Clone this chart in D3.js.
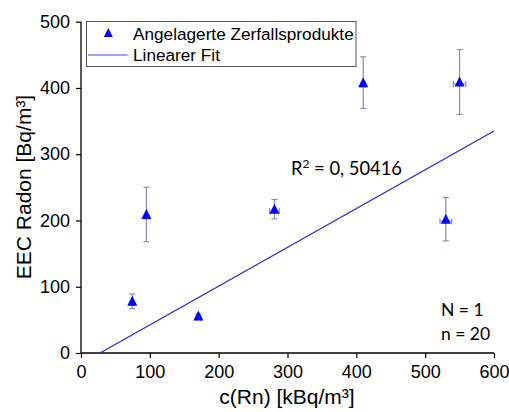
<!DOCTYPE html>
<html><head><meta charset="utf-8">
<script src="https://cdn.jsdelivr.net/npm/d3@7"></script>
<style>body{margin:0;background:#fff}svg{display:block}</style>
</head><body>
<script>
const xValues = [74.5, 95, 170.5, 281, 410, 550, 530];
const yValues = [78, 209, 56, 217, 408, 409, 202];
const yErrors = [11, 41, 3, 14.6, 39, 49, 32.7];
const xErrors = [2, 2, 3, 7, 3, 9, 8.5];
const fitLine = [[27.6, 0], [600, 335]];
const xTicks = [0, 100, 200, 300, 400, 500, 600];
const yTicks = [0, 100, 200, 300, 400, 500];
const legendLabels = ["Angelagerte Zerfallsprodukte", "Linearer Fit"];

const W = 509, H = 412;
const svg = d3.select("body").append("svg").attr("width", W).attr("height", H);
const x = d3.scaleLinear().domain([0, 600]).range([81, 494]);
const y = d3.scaleLinear().domain([0, 500]).range([353, 21.7]);
const font = "'Liberation Sans', Arial, sans-serif";
const font2 = "Lato, 'Open Sans', sans-serif";

// minor ticks
const xMinor = d3.range(50, 600, 100), yMinor = d3.range(50, 500, 100);
const gx = svg.append("g").attr("transform", `translate(0,${y(0)})`);
gx.call(d3.axisBottom(x).tickValues(xMinor).tickSize(3).tickFormat(""));
gx.call(d3.axisBottom(x).tickValues(xTicks).tickSize(5).tickPadding(7).tickFormat(d3.format("d")));
gx.selectAll(".domain").remove();
gx.append("line").attr("x1", x(0)).attr("x2", x(600)).attr("stroke", "#000").attr("stroke-width", 1.3);
const gy = svg.append("g").attr("transform", `translate(${x(0)},0)`);
gy.call(d3.axisLeft(y).tickValues(yMinor).tickSize(3).tickFormat(""));
gy.call(d3.axisLeft(y).tickValues(yTicks).tickSize(5).tickPadding(6).tickFormat(d3.format("d")));
gy.selectAll(".domain").remove();
gy.append("line").attr("y1", y(0)).attr("y2", y(500)).attr("stroke", "#000").attr("stroke-width", 1.3);
svg.selectAll(".tick line").attr("stroke", "#000").attr("stroke-width", 1.2);
svg.selectAll(".tick text").attr("font-family", font).attr("font-size", 18).attr("fill", "#000");

// axis labels
svg.append("text").attr("x", 287).attr("y", 404).attr("text-anchor", "middle")
  .attr("font-family", font).attr("font-size", 21).text("c(Rn) [kBq/m³]");
svg.append("text").attr("transform", `translate(31,187) rotate(-90)`).attr("text-anchor", "middle")
  .attr("font-family", font).attr("font-size", 21).text("EEC Radon [Bq/m³]");

// fit line
svg.append("line").attr("x1", x(fitLine[0][0])).attr("y1", y(fitLine[0][1]))
  .attr("x2", x(fitLine[1][0])).attr("y2", y(fitLine[1][1]))
  .attr("stroke", "#2a2ad0").attr("stroke-width", 1.3);

// error bars
const ec = "#8a8ac4";
const pts = xValues.map((v, i) => ({x: v, y: yValues[i], ye: yErrors[i], xe: xErrors[i]}));
const eb = svg.append("g").attr("stroke", ec).attr("stroke-width", 1.2).attr("fill", "none");
pts.forEach(p => {
  const cx = x(p.x), cy = y(p.y), t = y(p.y + p.ye), b = y(p.y - p.ye);
  eb.append("line").attr("x1", cx).attr("x2", cx).attr("y1", t).attr("y2", b);
  eb.append("line").attr("x1", cx - 3).attr("x2", cx + 3).attr("y1", t).attr("y2", t);
  eb.append("line").attr("x1", cx - 3).attr("x2", cx + 3).attr("y1", b).attr("y2", b);
  const l = x(p.x - p.xe), r = x(p.x + p.xe);
  eb.append("line").attr("x1", l).attr("x2", r).attr("y1", cy + 2).attr("y2", cy + 2);
  eb.append("line").attr("x1", l).attr("x2", l).attr("y1", cy - 1).attr("y2", cy + 5);
  eb.append("line").attr("x1", r).attr("x2", r).attr("y1", cy - 1).attr("y2", cy + 5);
});

// triangles
const tri = (cx, cy, s) => `M${cx},${cy - s * 0.55}L${cx + s / 2},${cy + s * 0.45}L${cx - s / 2},${cy + s * 0.45}Z`;
svg.append("g").selectAll("path").data(pts).join("path")
  .attr("d", d => tri(x(d.x), y(d.y), 10)).attr("fill", "#0000ff");

// legend
svg.append("rect").attr("x", 86.5).attr("y", 21.5).attr("width", 269.5).attr("height", 45)
  .attr("fill", "#fff").attr("stroke", "#555").attr("stroke-width", 1);
svg.append("path").attr("d", tri(108.3, 33, 9)).attr("fill", "#0000ff");
svg.append("line").attr("x1", 88).attr("x2", 127.5).attr("y1", 55).attr("y2", 55)
  .attr("stroke", "#8080f0").attr("stroke-width", 1.5);
svg.append("text").attr("x", 133).attr("y", 40).attr("font-family", font).attr("font-size", 17.2).text(legendLabels[0]);
svg.append("text").attr("x", 133).attr("y", 61).attr("font-family", font).attr("font-size", 17.2).text(legendLabels[1]);

// annotations
const r2 = svg.append("text").attr("x", 291).attr("y", 175).attr("font-family", font2).attr("font-size", 18.3);
r2.append("tspan").text("R");
r2.append("tspan").attr("font-size", 12).attr("dy", -7).text("2");
r2.append("tspan").attr("dy", 7).text(" = 0, 50416");
svg.append("text").attr("x", 441).attr("y", 316).attr("font-family", font2).attr("font-size", 17.5).text("N = 1");
svg.append("text").attr("x", 441).attr("y", 340).attr("font-family", font2).attr("font-size", 17.5).text("n = 20");
</script>
</body></html>
